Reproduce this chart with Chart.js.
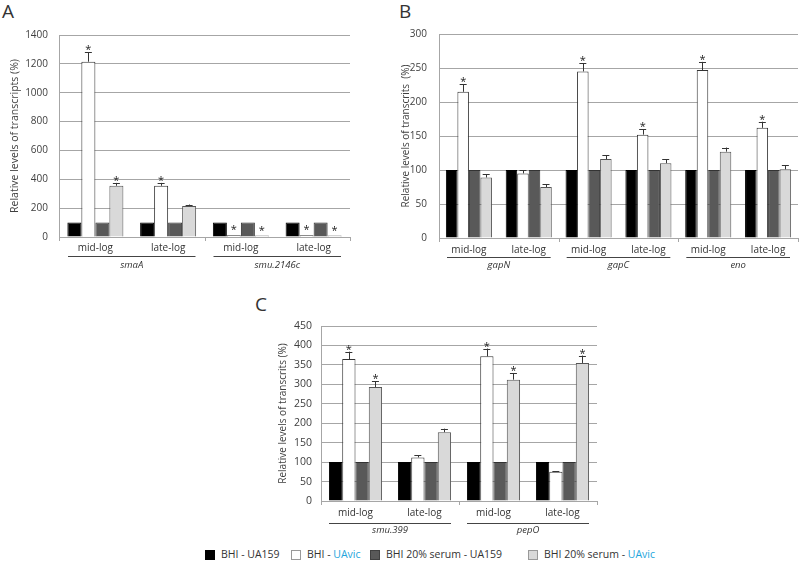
<!DOCTYPE html>
<html>
<head>
<meta charset="utf-8">
<script src="https://cdn.jsdelivr.net/npm/chart.js@4.4.1/dist/chart.umd.min.js"></script>
<style>
  body { margin: 0; background: #fff; font-family: "Open Sans", sans-serif; }
  #wrap { position: relative; width: 800px; height: 562px; overflow: hidden; }
  canvas { position: absolute; }
  .letter { position: absolute; font-size: 19px; line-height: 19px; color: #333; }
  .item { position: absolute; top: 547px; font-size: 10.5px; line-height: 14px; color: #333; white-space: nowrap; }
  .sq { position: absolute; top: 3px; width: 8px; height: 8px; }
  .item span.txt { position: absolute; left: 16px; top: 0; }
  .uavic { color: #1ea5dc; }
</style>
</head>
<body>
<div id="wrap">
  <div class="letter" style="left:2px;top:2px">A</div>
  <div class="letter" style="left:399px;top:2px">B</div>
  <div class="letter" style="left:255px;top:295px">C</div>

  <canvas id="chartA" width="400" height="275" style="left:0;top:0"></canvas>
  <canvas id="chartB" width="400" height="275" style="left:400px;top:0"></canvas>
  <canvas id="chartC" width="380" height="250" style="left:240px;top:290px"></canvas>

  <div class="item" style="left:205px"><div class="sq" style="background:#000;border:1px solid #000"></div><span class="txt">BHI - UA159</span></div>
  <div class="item" style="left:291px"><div class="sq" style="background:#fff;border:1px solid #999"></div><span class="txt">BHI - <span class="uavic">UAvic</span></span></div>
  <div class="item" style="left:370px"><div class="sq" style="background:#595959;border:1px solid #404040"></div><span class="txt">BHI 20% serum - UA159</span></div>
  <div class="item" style="left:528px"><div class="sq" style="background:#d9d9d9;border:1px solid #999"></div><span class="txt">BHI 20% serum - <span class="uavic">UAvic</span></span></div>
</div>

<script>
// ── Data ───────────────────────────────────────────────
const seriesNames = ["BHI - UA159", "BHI - UAvic", "BHI 20% serum - UA159", "BHI 20% serum - UAvic"];

// Panel A
const labelsA = ["mid-log", "late-log", "mid-log", "late-log"];
const genesA = ["smaA", "smu.2146c"];
const ticksA = [0, 200, 400, 600, 800, 1000, 1200, 1400];
const bhiUA159A = [100, 100, 100, 100];
const bhiUAvicA = [1215, 355, 12, 12];
const bhiUAvicErrA = [65, 20, 0, 0];
const bhiUAvicStarA = [1, 1, 1, 1];
const serumUA159A = [100, 100, 100, 100];
const serumUAvicA = [355, 215, 10, 10];
const serumUAvicErrA = [20, 10, 0, 0];
const serumUAvicStarA = [1, 0, 1, 1];

// Panel B
const labelsB = ["mid-log", "late-log", "mid-log", "late-log", "mid-log", "late-log"];
const genesB = ["gapN", "gapC", "eno"];
const ticksB = [0, 50, 100, 150, 200, 250, 300];
const bhiUA159B = [100, 100, 100, 100, 100, 100];
const bhiUAvicB = [215, 95, 245, 152, 247, 162];
const bhiUAvicErrB = [11, 5, 12, 8, 12, 9];
const bhiUAvicStarB = [1, 0, 1, 1, 1, 1];
const serumUA159B = [100, 100, 100, 100, 100, 100];
const serumUAvicB = [89, 75, 116, 110, 127, 101];
const serumUAvicErrB = [5, 4, 6, 6, 6, 6];
const serumUAvicStarB = [0, 0, 0, 0, 0, 0];

// Panel C
const labelsC = ["mid-log", "late-log", "mid-log", "late-log"];
const genesC = ["smu.399", "pepO"];
const ticksC = [0, 50, 100, 150, 200, 250, 300, 350, 400, 450];
const bhiUA159C = [100, 100, 100, 100];
const bhiUAvicC = [365, 112, 372, 75];
const bhiUAvicErrC = [19, 6, 20, 2];
const bhiUAvicStarC = [1, 0, 1, 0];
const serumUA159C = [100, 100, 100, 100];
const serumUAvicC = [293, 177, 312, 355];
const serumUAvicErrC = [15, 9, 16, 19];
const serumUAvicStarC = [1, 0, 1, 1];

const none = (n) => new Array(n).fill(0);

// ── Extras: error bars, stars, gene groups ─────────────
const extras = {
  id: "extras",
  afterDatasetsDraw(chart) {
    const { ctx, scales: { y } } = chart;
    ctx.save();
    chart.data.datasets.forEach((ds, i) => {
      const meta = chart.getDatasetMeta(i);
      meta.data.forEach((bar, j) => {
        const err = ds.errors[j];
        let top = y.getPixelForValue(ds.data[j]);
        if (err > 0) {
          const ey = y.getPixelForValue(ds.data[j] + err);
          ctx.strokeStyle = "#333";
          ctx.lineWidth = 1;
          ctx.beginPath();
          ctx.moveTo(Math.round(bar.x) + 0.5, top);
          ctx.lineTo(Math.round(bar.x) + 0.5, ey);
          ctx.moveTo(bar.x - 3.5, Math.round(ey) + 0.5);
          ctx.lineTo(bar.x + 3.5, Math.round(ey) + 0.5);
          ctx.stroke();
          top = ey;
        } else {
          top -= 3;
        }
        if (ds.stars[j]) {
          ctx.fillStyle = "#222";
          ctx.font = '11px "Open Sans"';
          ctx.textAlign = "center";
          ctx.textBaseline = "alphabetic";
          ctx.fillText("*", bar.x, top + 1);
        }
      });
    });
    ctx.restore();
  },
  afterDraw(chart, args, opts) {
    const { ctx, scales: { x } } = chart;
    const half = (x.getPixelForValue(1) - x.getPixelForValue(0)) / 2;
    const per = chart.data.labels.length / opts.genes.length;
    ctx.save();
    // ticks at gene boundaries
    ctx.strokeStyle = "#a6a6a6";
    ctx.lineWidth = 1;
    ctx.beginPath();
    for (let g = 0; g <= opts.genes.length; g++) {
      const px = Math.round(x.getPixelForValue(g * per) - half) + 0.5;
      ctx.moveTo(px, x.top);
      ctx.lineTo(px, x.top + 4);
    }
    ctx.stroke();
    // group lines and gene names
    opts.genes.forEach((gene, g) => {
      const x0 = x.getPixelForValue(g * per) - half + opts.inset;
      const x1 = x.getPixelForValue((g + 1) * per - 1) + half - opts.inset;
      const ly = Math.round(x.top + opts.lineOffset) + 0.5;
      ctx.strokeStyle = "#444";
      ctx.beginPath();
      ctx.moveTo(x0, ly);
      ctx.lineTo(x1, ly);
      ctx.stroke();
      ctx.fillStyle = "#333";
      ctx.font = 'italic 9.5px "Open Sans"';
      ctx.textAlign = "center";
      ctx.textBaseline = "middle";
      ctx.fillText(gene, (x0 + x1) / 2, x.top + opts.nameOffset);
    });
    ctx.restore();
  },
};

Chart.defaults.font.family = '"Open Sans", sans-serif';

function makeChart(id, cfg) {
  const n = cfg.labels.length;
  const datasets = [
    { label: seriesNames[0], data: cfg.s1, backgroundColor: "#000000", borderColor: "#000000", errors: none(n), stars: none(n) },
    { label: seriesNames[1], data: cfg.s2, backgroundColor: "#ffffff", borderColor: "#333333", errors: cfg.e2, stars: cfg.st2 },
    { label: seriesNames[2], data: cfg.s3, backgroundColor: "#595959", borderColor: "#333333", errors: none(n), stars: none(n) },
    { label: seriesNames[3], data: cfg.s4, backgroundColor: "#d9d9d9", borderColor: "#555555", errors: cfg.e4, stars: cfg.st4 },
  ];
  return new Chart(document.getElementById(id), {
    type: "bar",
    data: { labels: cfg.labels, datasets },
    options: {
      responsive: false,
      animation: false,
      layout: { padding: cfg.pad },
      datasets: { bar: { categoryPercentage: 0.77, barPercentage: 1, borderWidth: 1 } },
      plugins: {
        legend: { display: false },
        tooltip: { enabled: false },
        extras: cfg.extras,
      },
      scales: {
        x: {
          grid: { display: false, drawTicks: false },
          border: { color: "#a6a6a6" },
          ticks: { padding: cfg.xPad, color: "#333", font: { size: 10 } },
          afterFit: (s) => { s.height = cfg.xH; },
        },
        y: {
          min: 0,
          max: cfg.ticks[cfg.ticks.length - 1],
          afterBuildTicks: (s) => { s.ticks = cfg.ticks.map((v) => ({ value: v })); },
          grid: { color: "#a6a6a6", drawTicks: false },
          border: { color: "#a6a6a6" },
          ticks: { padding: cfg.yPad, color: "#404040", font: { size: cfg.tickSize }, callback: (v) => String(v) },
          title: { display: true, text: cfg.yTitle, color: "#404040", font: { size: cfg.titleSize }, padding: { top: cfg.tPad, bottom: 0 } },
          afterFit: (s) => { s.width = cfg.yW; },
        },
      },
    },
    plugins: [extras],
  });
}

makeChart("chartA", {
  labels: labelsA, ticks: ticksA,
  s1: bhiUA159A, s2: bhiUAvicA, e2: bhiUAvicErrA, st2: bhiUAvicStarA,
  s3: serumUA159A, s4: serumUAvicA, e4: serumUAvicErrA, st4: serumUAvicStarA,
  yTitle: "Relative levels of transcripts (%)",
  pad: { left: 0, top: 35, right: 50, bottom: 0 },
  yW: 59, xH: 38, yPad: 11, xPad: 5.5, tPad: 9, tickSize: 10, titleSize: 10.5,
  extras: { genes: genesA, inset: 9, lineOffset: 19, nameOffset: 28.5 },
});

makeChart("chartB", {
  labels: labelsB, ticks: ticksB,
  s1: bhiUA159B, s2: bhiUAvicB, e2: bhiUAvicErrB, st2: bhiUAvicStarB,
  s3: serumUA159B, s4: serumUAvicB, e4: serumUAvicErrB, st4: serumUAvicStarB,
  yTitle: "Relative levels of transcrits  (%)",
  pad: { left: 0, top: 34, right: 2, bottom: 0 },
  yW: 39, xH: 37, yPad: 12, xPad: 6, tPad: 0, tickSize: 10, titleSize: 10,
  extras: { genes: genesB, inset: 8, lineOffset: 19, nameOffset: 27 },
});

makeChart("chartC", {
  labels: labelsC, ticks: ticksC,
  s1: bhiUA159C, s2: bhiUAvicC, e2: bhiUAvicErrC, st2: bhiUAvicStarC,
  s3: serumUA159C, s4: serumUAvicC, e4: serumUAvicErrC, st4: serumUAvicStarC,
  yTitle: "Relative levels of transcrits (%)",
  pad: { left: 0, top: 36, right: 23, bottom: 0 },
  yW: 81, xH: 39, yPad: 9, xPad: 6, tPad: 37, tickSize: 10.5, titleSize: 10,
  extras: { genes: genesC, inset: 8, lineOffset: 21.5, nameOffset: 29 },
});
</script>
</body>
</html>
